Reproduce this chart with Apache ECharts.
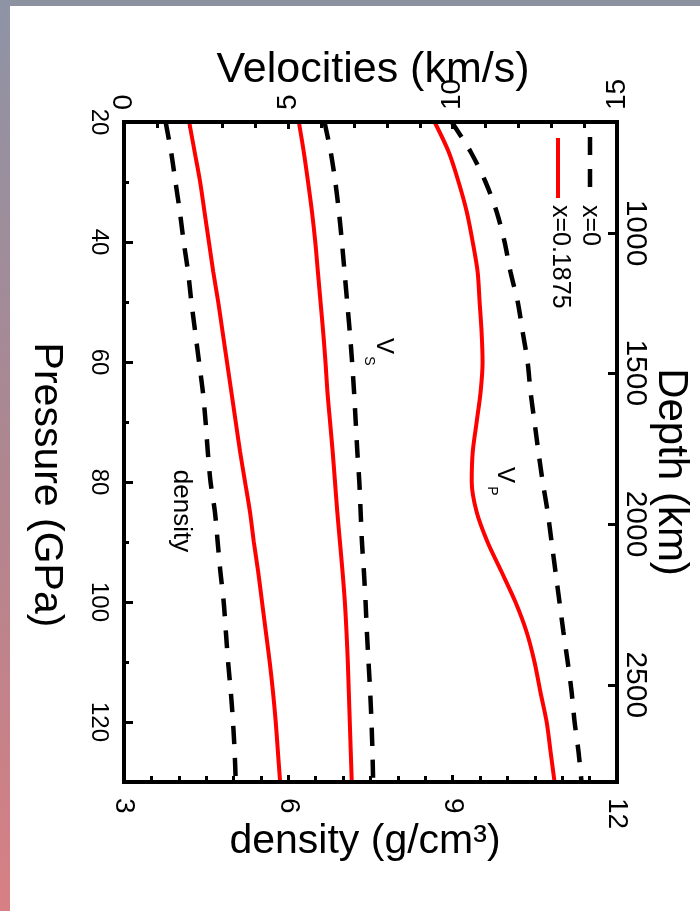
<!DOCTYPE html>
<html>
<head>
<meta charset="utf-8">
<script src="https://cdn.jsdelivr.net/npm/echarts@6/dist/echarts.min.js"></script>
<style>
  html, body { margin: 0; padding: 0; background: #fff; }
  #contain { width: 700px; height: 911px; }
</style>
</head>
<body>
<div id="contain"></div>
<script>
// pressure (GPa) sample points, shared by all curves
var pressure = [20, 25, 30, 35, 40, 45, 50, 55, 60, 65, 70, 75, 80, 85, 90, 95, 100, 105, 110, 115, 120, 125, 130];

// velocities (km/s), top axis
var vpX0     = [9.97, 10.55, 11.00, 11.34, 11.58, 11.76, 11.98, 12.13, 12.28, 12.37, 12.49, 12.61, 12.74, 12.89, 13.01, 13.13, 13.25, 13.37, 13.50, 13.62, 13.71, 13.83, 13.92];
var vpX1875  = [9.45, 9.88, 10.18, 10.43, 10.61, 10.76, 10.82, 10.88, 10.91, 10.85, 10.73, 10.61, 10.58, 10.73, 11.06, 11.49, 11.91, 12.25, 12.49, 12.67, 12.86, 12.98, 13.10];
var vsX0     = [6.10, 6.29, 6.43, 6.54, 6.63, 6.71, 6.79, 6.87, 6.94, 7.00, 7.05, 7.10, 7.16, 7.20, 7.24, 7.30, 7.35, 7.39, 7.44, 7.49, 7.53, 7.56, 7.58];
var vsX1875  = [5.32, 5.47, 5.60, 5.72, 5.82, 5.90, 5.98, 6.06, 6.13, 6.19, 6.27, 6.35, 6.42, 6.49, 6.57, 6.65, 6.72, 6.77, 6.81, 6.84, 6.87, 6.90, 6.93];

// density (g/cm3), bottom axis
var rhoX0    = [3.76, 3.86, 3.94, 4.02, 4.09, 4.17, 4.23, 4.30, 4.37, 4.44, 4.49, 4.53, 4.58, 4.66, 4.71, 4.76, 4.82, 4.86, 4.90, 4.95, 4.99, 5.02, 5.04];
var rhoX1875 = [4.19, 4.29, 4.39, 4.47, 4.55, 4.63, 4.72, 4.80, 4.88, 4.96, 5.04, 5.12, 5.21, 5.30, 5.37, 5.45, 5.52, 5.59, 5.66, 5.72, 5.77, 5.81, 5.85];

// axis ticks
var pressureMajor = [20, 40, 60, 80, 100, 120];
var pressureMinor = [30, 50, 70, 90, 110];
var depthTicks = [1000, 1500, 2000, 2500];
var depthPressure = [38.5, 61.8, 87.0, 113.8];   // pressure where each depth sits

var FONT = 'Liberation Sans';
var BLACK = '#000';
var RED = '#ff0000';

function pairs(xs) {
    return pressure.map(function (p, i) { return [xs[i], p]; });
}

function depthLabel(v) {
    var best = 0;
    for (var i = 1; i < depthPressure.length; i++) {
        if (Math.abs(depthPressure[i] - v) < Math.abs(depthPressure[best] - v)) best = i;
    }
    return String(depthTicks[best]);
}

var myChart = echarts.init(document.getElementById('contain'), null, {renderer: 'canvas'});

var dashStyle = {color: BLACK, width: 4.5, type: [18, 14], cap: 'butt'};
var redStyle = {color: RED, width: 4};

function curve(name, xs, xIdx, style) {
    return {
        name: name,
        type: 'line',
        xAxisIndex: xIdx,
        yAxisIndex: 0,
        data: pairs(xs),
        showSymbol: false,
        smooth: 0.3,
        lineStyle: style,
        silent: true,
        z: 3
    };
}

myChart.setOption({
    animation: false,
    backgroundColor: '#fff',
    textStyle: {fontFamily: FONT},
    grid: {
        left: 124, top: 122, right: 83, bottom: 129,
        show: true, borderColor: BLACK, borderWidth: 4, backgroundColor: 'transparent', z: 10
    },
    xAxis: [
        {   // velocities
            type: 'value', position: 'top', min: 0, max: 15, interval: 5,
            axisLine: {show: false},
            splitLine: {show: false},
            axisTick: {show: true, inside: true, length: 7, lineStyle: {color: BLACK, width: 3}},
            minorTick: {show: true, splitNumber: 5, length: 6, lineStyle: {color: BLACK, width: 3}},
            axisLabel: {rotate: -90, margin: 12, fontSize: 28, color: BLACK, fontFamily: FONT}
        },
        {   // density
            type: 'value', position: 'bottom', min: 3, max: 12, interval: 3,
            axisLine: {show: false},
            splitLine: {show: false},
            axisTick: {show: true, inside: true, length: 7, lineStyle: {color: BLACK, width: 3}},
            minorTick: {show: true, splitNumber: 6, length: 6, lineStyle: {color: BLACK, width: 3}},
            axisLabel: {rotate: -90, margin: 16, fontSize: 28, color: BLACK, fontFamily: FONT}
        }
    ],
    yAxis: [
        {   // pressure, major ticks + labels
            type: 'value', position: 'left', inverse: true, min: 20, max: 130,
            axisLine: {show: false},
            splitLine: {show: false},
            axisTick: {show: true, inside: true, length: 9, customValues: pressureMajor, lineStyle: {color: BLACK, width: 3}},
            axisLabel: {rotate: -90, margin: 13, fontSize: 24, color: BLACK, fontFamily: FONT, customValues: pressureMajor}
        },
        {   // pressure, minor ticks
            type: 'value', position: 'left', inverse: true, min: 20, max: 130,
            axisLine: {show: false},
            splitLine: {show: false},
            axisTick: {show: true, inside: true, length: 5, customValues: pressureMinor, lineStyle: {color: BLACK, width: 3}},
            axisLabel: {show: false}
        },
        {   // depth (km), non-linear in pressure
            type: 'value', position: 'right', inverse: true, min: 20, max: 130,
            axisLine: {show: false},
            splitLine: {show: false},
            axisTick: {show: true, inside: true, length: 9, customValues: depthPressure, lineStyle: {color: BLACK, width: 3}},
            axisLabel: {rotate: -90, margin: 3, fontSize: 30, color: BLACK, fontFamily: FONT,
                customValues: depthPressure, formatter: depthLabel}
        }
    ],
    series: [
        curve('Vp x=0', vpX0, 0, dashStyle),
        curve('Vp x=0.1875', vpX1875, 0, redStyle),
        curve('Vs x=0', vsX0, 0, dashStyle),
        curve('Vs x=0.1875', vsX1875, 0, redStyle),
        curve('density x=0', rhoX0, 1, dashStyle),
        curve('density x=0.1875', rhoX1875, 1, redStyle)
    ],
    graphic: [
        // page edges
        {type: 'rect', left: 0, top: 0, shape: {width: 700, height: 6}, style: {fill: '#8d92a0'}, z: 100},
        {type: 'rect', left: 0, top: 0, shape: {width: 10, height: 911},
            style: {fill: new echarts.graphic.LinearGradient(0, 0, 0, 1, [
                {offset: 0, color: '#8e94a6'},
                {offset: 0.5, color: '#ad8690'},
                {offset: 1, color: '#d77f84'}
            ])}, z: 100},
        // axis titles
        {type: 'text', x: 373, y: 70, style: {text: 'Velocities (km/s)', font: '43px "Liberation Sans"', fill: BLACK, align: 'center', verticalAlign: 'middle'}},
        {type: 'text', x: 365, y: 842, style: {text: 'density (g/cm³)', font: '41px "Liberation Sans"', fill: BLACK, align: 'center', verticalAlign: 'middle'}},
        {type: 'text', x: 46, y: 485, rotation: -Math.PI / 2, style: {text: 'Pressure (GPa)', font: '41px "Liberation Sans"', fill: BLACK, align: 'center', verticalAlign: 'middle'}},
        {type: 'text', x: 671, y: 472, rotation: -Math.PI / 2, style: {text: 'Depth (km)', font: '42px "Liberation Sans"', fill: BLACK, align: 'center', verticalAlign: 'middle'}},
        // curve labels
        {type: 'text', x: 384, y: 346, rotation: -Math.PI / 2, style: {text: 'V', font: '24px "Liberation Sans"', fill: BLACK, align: 'center', verticalAlign: 'middle'}},
        {type: 'text', x: 369, y: 361, rotation: -Math.PI / 2, style: {text: 'S', font: '14px "Liberation Sans"', fill: BLACK, align: 'center', verticalAlign: 'middle'}},
        {type: 'text', x: 505, y: 475, rotation: -Math.PI / 2, style: {text: 'V', font: '24px "Liberation Sans"', fill: BLACK, align: 'center', verticalAlign: 'middle'}},
        {type: 'text', x: 492, y: 491, rotation: -Math.PI / 2, style: {text: 'P', font: '14px "Liberation Sans"', fill: BLACK, align: 'center', verticalAlign: 'middle'}},
        {type: 'text', x: 181, y: 511, rotation: -Math.PI / 2, style: {text: 'density', font: '26px "Liberation Sans"', fill: BLACK, align: 'center', verticalAlign: 'middle'}},
        // legend
        {type: 'line', shape: {x1: 590, y1: 137, x2: 590, y2: 198}, style: {stroke: BLACK, lineWidth: 4.5, lineDash: [18, 14]}},
        {type: 'line', shape: {x1: 558, y1: 138, x2: 558, y2: 198}, style: {stroke: RED, lineWidth: 4}},
        {type: 'text', x: 590, y: 205, rotation: -Math.PI / 2, style: {text: 'x=0', font: '25px "Liberation Sans"', fill: BLACK, align: 'left', verticalAlign: 'middle'}},
        {type: 'text', x: 560, y: 205, rotation: -Math.PI / 2, style: {text: 'x=0.1875', font: '25px "Liberation Sans"', fill: BLACK, align: 'left', verticalAlign: 'middle'}}
    ]
});
</script>
</body>
</html>
